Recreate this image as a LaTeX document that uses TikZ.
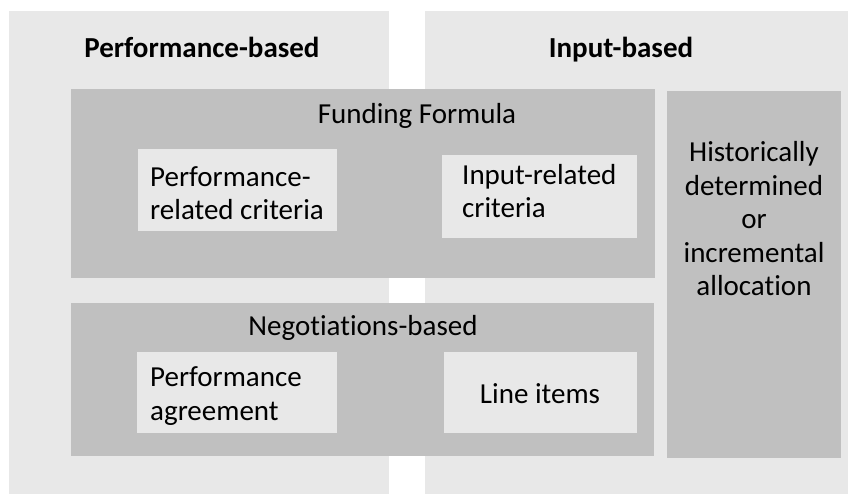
\documentclass[tikz,border=0pt]{standalone}
\usepackage{fontspec}
\setmainfont{Carlito}[Ligatures=NoCommon]
\usetikzlibrary{positioning,calc}
\definecolor{panelgray}{RGB}{232,232,232}
\definecolor{blockgray}{RGB}{192,192,192}
\newcommand{\paletone}{panelgray}
\newcommand{\blocktone}{blockgray}
\tikzset{
  area/.style={fill=\paletone, inner sep=0pt, anchor=north west},
  block/.style={fill=\blocktone, inner sep=0pt, anchor=north west},
  txt/.style={font=\fontsize{29}{33.5}\selectfont, inner sep=0pt},
  head/.style={font=\fontsize{29}{33.5}\selectfont\bfseries, inner sep=0pt, anchor=base}
}

\begin{document}
\begin{tikzpicture}[x=1pt,y=-1pt]
        \useasboundingbox (0,0) rectangle (848,495);
        % two halves
        \node[area, minimum width=380pt, minimum height=483pt] (perfside) at (9,11) {};
        \node[area, minimum width=423pt, minimum height=483pt] (inputside) at (425,11) {};
        \node[head] (perfhead) at (202,58) {Performance-based};
        \node[head] (inputhead) at (621,58) {Input-based};
        % darker blocks
        \node[block, minimum width=584pt, minimum height=189pt] (formula) at (71,89) {};
        \node[block, minimum width=583pt, minimum height=153pt] (negot) at (71,303) {};
        \node[block, minimum width=174pt, minimum height=367pt] (history) at (667,91) {};
        \node[txt, anchor=base] (formulatext) at (417,123) {Funding Formula};
        \node[txt, anchor=base] (negottext) at (363,335) {Negotiations-based};
        \node[txt, align=center] (historytext) at (754,219) {Historically\\determined\\or\\incremental\\allocation};
        % light items
        \node[area, minimum width=199pt, minimum height=82pt] (perfcrit) at (138,149) {};
        \node[area, minimum width=195pt, minimum height=83pt] (inputcrit) at (442,155) {};
        \node[area, minimum width=200pt, minimum height=81pt] (perfagree) at (137,352) {};
        \node[area, minimum width=193pt, minimum height=81pt] (lineitems) at (444,352) {};
        \node[txt, align=left, anchor=west] (perfcrittext) at (150,193) {Performance-\\related criteria};
        \node[txt, align=left, anchor=west] (inputcrittext) at (462,191) {Input-related\\criteria};
        \node[txt, align=left, anchor=west] (perfagreetext) at (150,396) {Performance\\agreement};
        \node[txt] (lineitemstext) at (540,394) {Line items};
    \end{tikzpicture}
\end{document}
